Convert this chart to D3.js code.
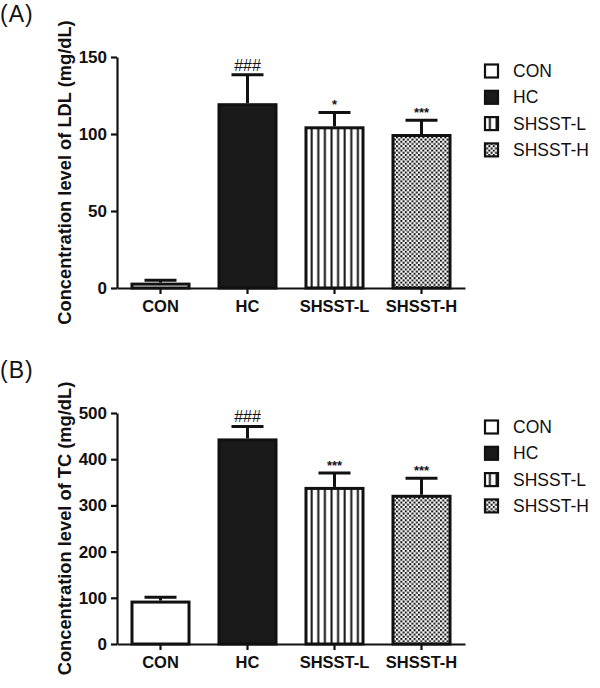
<!DOCTYPE html>
<html><head><meta charset="utf-8">
<script src="https://cdn.jsdelivr.net/npm/d3@7"></script>
<style>body{margin:0;background:#fff}svg{display:block}</style>
</head><body>
<script>
const categories = ["CON","HC","SHSST-L","SHSST-H"];
const ldlMeans = [3.5, 120, 105, 100];
const ldlErrTop = [5, 138.5, 114, 109];
const ldlMarks = ["", "###", "*", "***"];
const tcMeans = [94, 445, 340, 323];
const tcErrTop = [101, 471, 370, 359];
const tcMarks = ["", "###", "***", "***"];
const ldlTicks = [0, 50, 100, 150];
const tcTicks = [0, 100, 200, 300, 400, 500];
const panelLabels = ["(A)", "(B)"];
const yTitles = ["Concentration level of LDL (mg/dL)", "Concentration level of TC (mg/dL)"];

const W = 600, H = 688;
const svg = d3.select("body").append("svg").attr("width", W).attr("height", H);
const defs = svg.append("defs");

// vertical stripes
const ps = defs.append("pattern").attr("id","stripes").attr("patternUnits","userSpaceOnUse")
  .attr("width",6.6).attr("height",10);
ps.append("rect").attr("width",6.6).attr("height",10).attr("fill","#fff");
ps.append("rect").attr("x",0.5).attr("width",2).attr("height",10).attr("fill","#111");
// checker dots
const pc = defs.append("pattern").attr("id","checker").attr("patternUnits","userSpaceOnUse")
  .attr("width",4.4).attr("height",4.4);
pc.append("rect").attr("width",4.4).attr("height",4.4).attr("fill","#fff");
pc.append("rect").attr("x",0).attr("y",0).attr("width",2).attr("height",2).attr("fill","#111");
pc.append("rect").attr("x",2.2).attr("y",2.2).attr("width",2).attr("height",2).attr("fill","#111");

const fills = ["#fff", "#1a1a1a", "url(#stripes)", "url(#checker)"];
const font = "'Liberation Sans', Arial, sans-serif";

const x = d3.scaleBand().domain(categories).range([117, 465]).paddingInner(0.31).paddingOuter(0.155);

function panel(i, top0, bot0, maxV, ticks, means, errs, marks) {
  const g = svg.append("g");
  const y = d3.scaleLinear().domain([0, maxV]).range([bot0, top0]);

  g.append("text").attr("x", 0).attr("y", top0 - 35).text(panelLabels[i])
    .attr("font-family", font).attr("font-size", 23).attr("letter-spacing", 1).attr("fill", "#111");

  // error bars
  categories.forEach((c, k) => {
    const cx = x(c) + x.bandwidth() / 2;
    g.append("line").attr("x1", cx).attr("x2", cx).attr("y1", y(means[k])).attr("y2", y(errs[k]))
      .attr("stroke", "#111").attr("stroke-width", 3);
    g.append("line").attr("x1", cx - 16).attr("x2", cx + 16).attr("y1", y(errs[k])).attr("y2", y(errs[k]))
      .attr("stroke", "#111").attr("stroke-width", 3);
    if (marks[k]) {
      const isHash = marks[k].includes("#");
      g.append("text").attr("x", cx).attr("y", y(errs[k]) - (isHash ? 4 : 3)).attr("text-anchor", "middle")
        .text(marks[k]).attr("font-family", font).attr("font-weight", isHash ? "normal" : "bold")
        .attr("font-size", isHash ? 16 : 13).attr("fill", "#111");
    }
  });
  // bars
  g.selectAll("rect.bar").data(categories).join("rect").attr("class","bar")
    .attr("x", c => x(c) + 1.5).attr("width", x.bandwidth() - 3)
    .attr("y", (c, k) => y(means[k]) + 1.5)
    .attr("height", (c, k) => Math.max(0, bot0 - y(means[k]) - 1.5))
    .attr("fill", (c, k) => fills[k]).attr("stroke", "#111").attr("stroke-width", 3);

  // y axis
  const ya = g.append("g").attr("transform", `translate(117,0)`)
    .call(d3.axisLeft(y).tickValues(ticks).tickSize(6).tickSizeOuter(0).tickPadding(4));
  ya.select(".domain").attr("stroke", "#111").attr("stroke-width", 2.2);
  ya.selectAll(".tick line").attr("stroke", "#111").attr("stroke-width", 2.2);
  ya.selectAll(".tick text").attr("font-family", font).attr("font-weight", "bold")
    .attr("font-size", 17).attr("fill", "#111");

  // x axis
  const xa = g.append("g").attr("transform", `translate(0,${bot0})`)
    .call(d3.axisBottom(x).tickSize(6).tickSizeOuter(0).tickPadding(6));
  xa.select(".domain").attr("stroke", "#111").attr("stroke-width", 2.2);
  xa.selectAll(".tick line").attr("stroke", "#111").attr("stroke-width", 2.2);
  xa.selectAll(".tick text").attr("font-family", font).attr("font-weight", "bold")
    .attr("font-size", 16.5).attr("fill", "#111");

  // y title
  g.append("text").attr("transform", `translate(71,${(top0 + bot0) / 2}) rotate(-90)`)
    .attr("text-anchor", "middle").text(yTitles[i])
    .attr("font-family", font).attr("font-weight", "bold").attr("font-size", 18.3).attr("fill", "#111");

  // legend
  const ly0 = top0 + 14;
  categories.forEach((c, k) => {
    const ly = ly0 + k * 26.3;
    g.append("rect").attr("x", 485).attr("y", ly - 6.5).attr("width", 13).attr("height", 13)
      .attr("fill", fills[k]).attr("stroke", "#111").attr("stroke-width", 2.2);
    g.append("text").attr("x", 513).attr("y", ly + 6).text(c)
      .attr("font-family", font).attr("font-size", 17.5).attr("fill", "#111");
  });
}

panel(0, 57, 288, 150, ldlTicks, ldlMeans, ldlErrTop, ldlMarks);
panel(1, 413, 644, 500, tcTicks, tcMeans, tcErrTop, tcMarks);
</script>
</body></html>
